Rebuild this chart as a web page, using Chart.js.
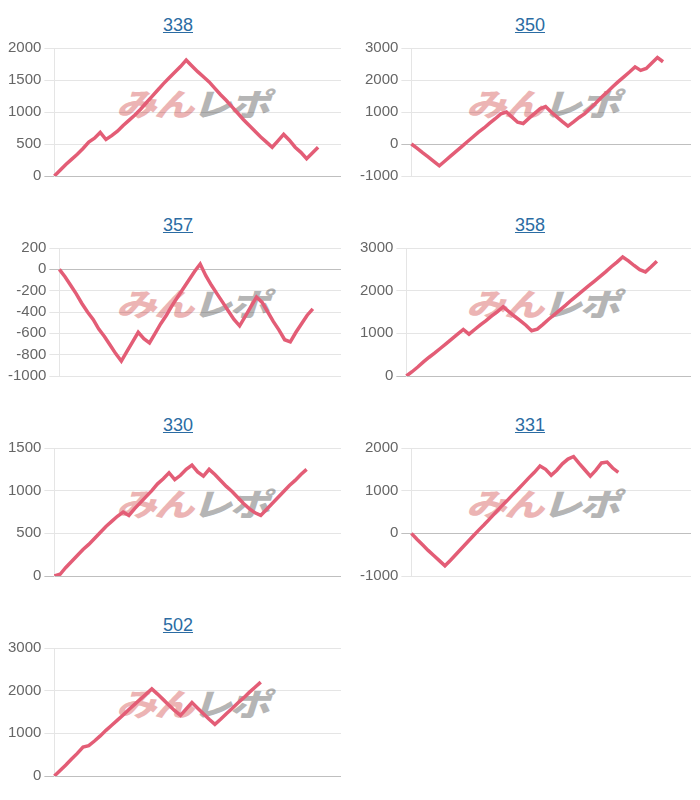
<!DOCTYPE html>
<html>
<head>
<meta charset="utf-8">
<script src="https://cdn.jsdelivr.net/npm/chart.js@4"></script>
<style>
  html, body { margin: 0; padding: 0; background: #fff; }
  body { width: 700px; height: 800px; position: relative; overflow: hidden; font-family: 'Liberation Sans', Arial, sans-serif; }
  .title { position: absolute; width: 356px; text-align: center; font-size: 18px; line-height: 24px; }
  .title a { color: #2b6ca3; text-decoration: underline; }
  .wm { position: absolute; width: 200px; height: 34px; line-height: 34px; text-align: center; white-space: nowrap;
        font-family: 'Noto Sans CJK JP', sans-serif; font-weight: 900; font-size: 33px; }
  .wm span.inner { display: inline-block; transform: scaleX(1.22) scaleY(0.95) skewX(-14deg); letter-spacing: -2px; }
  .wm .p { color: #ecb4b4; }
  .wm .g { color: #b5b5b5; }
  canvas { position: absolute; }
</style>
</head>
<body>
<script>
// ---- data ----
const titles = ['338', '350', '357', '358', '330', '331', '502'];

const s338 = [0, 90, 180, 260, 340, 430, 530, 590, 680, 570, 630, 700, 790, 870, 950, 1040, 1140, 1240, 1340, 1440,
  1530, 1620, 1710, 1810, 1720, 1630, 1550, 1470, 1370, 1270, 1180, 1080, 980, 880, 790, 700, 610, 530, 450, 550,
  650, 560, 450, 370, 270, 360, 450];
const s350 = [0, -130, -270, -400, -540, -680, -530, -380, -230, -80, 70, 220, 370, 500, 650, 790, 940, 1000, 840, 680,
  640, 800, 950, 1100, 1170, 1000, 850, 700, 560, 690, 830, 950, 1120, 1280, 1460, 1620, 1790, 1950, 2100, 2250,
  2410, 2300, 2360, 2530, 2700, 2570];
const s357 = [0, -70, -150, -230, -320, -400, -470, -560, -630, -710, -790, -860, -770, -680, -590, -650, -690, -600,
  -510, -430, -340, -260, -180, -100, -20, 50, -60, -150, -230, -310, -390, -470, -530, -440, -350, -260, -310, -400,
  -490, -570, -660, -680, -590, -510, -430, -370];
const s358 = [0, 100, 210, 330, 440, 540, 650, 760, 870, 980, 1090, 980, 1090, 1200, 1300, 1410, 1510, 1620, 1510,
  1400, 1300, 1190, 1060, 1100, 1210, 1330, 1440, 1550, 1660, 1780, 1890, 2000, 2110, 2220, 2330, 2440, 2560, 2670,
  2790, 2700, 2590, 2490, 2440, 2560, 2690];
const s330 = [0, 20, 100, 170, 240, 310, 370, 440, 510, 580, 640, 700, 750, 710, 790, 860, 930, 1000, 1080, 1140, 1210,
  1130, 1180, 1250, 1300, 1220, 1170, 1250, 1190, 1120, 1050, 990, 920, 850, 790, 740, 710, 780, 850, 920, 990, 1060,
  1120, 1190, 1250];
const s331 = [0, -140, -270, -400, -520, -640, -760, -630, -490, -350, -210, -70, 70, 200, 340, 480, 620, 750, 890,
  1020, 1160, 1300, 1430, 1580, 1500, 1360, 1480, 1630, 1740, 1800, 1640, 1490, 1340, 1480, 1650, 1670, 1530, 1430];
const s502 = [0, 130, 260, 400, 530, 680, 710, 820, 940, 1070, 1190, 1310, 1430, 1560, 1680, 1800, 1920, 2040, 1920,
  1790, 1660, 1530, 1420, 1570, 1720, 1590, 1460, 1330, 1210, 1330, 1460, 1580, 1710, 1830, 1960, 2080, 2200];

const seriesList = [s338, s350, s357, s358, s330, s331, s502];

// y-axis tick settings per chart
const yMin  = [0, -1000, -1000, 0, 0, -1000, 0];
const yMax  = [2000, 3000, 200, 3000, 1500, 2000, 3000];
const yStep = [500, 1000, 200, 1000, 500, 1000, 1000];

// x positions (no visible labels)
const xCount = 51;
const xLabels = Array.from({ length: xCount }, (_, i) => String(i));

// ---- drawing ----
Chart.defaults.font.family = "'Liberation Sans', Arial, sans-serif";
Chart.defaults.font.size = 15;
Chart.defaults.color = '#666';

const colTitleLeft = [0, 352];
const colCanvasLeft = [5, 357];
const colCanvasWidth = [336, 334];
const colWmCenter = [196, 546];
const canvasTop = 36;
const canvasHeight = 152;

titles.forEach((t, i) => {
  const r = Math.floor(i / 2), c = i % 2;
  const top = 200 * r;

  const wm = document.createElement('div');
  wm.className = 'wm';
  wm.style.left = (colWmCenter[c] - 100) + 'px';
  wm.style.top = (top + 86) + 'px';
  wm.innerHTML = '<span class="inner"><span class="p">みん</span><span class="g">レポ</span></span>';
  document.body.appendChild(wm);

  const title = document.createElement('div');
  title.className = 'title';
  title.style.left = colTitleLeft[c] + 'px';
  title.style.top = (top + 13) + 'px';
  const a = document.createElement('a');
  a.href = '#';
  a.textContent = t;
  title.appendChild(a);
  document.body.appendChild(title);

  const cv = document.createElement('canvas');
  cv.width = colCanvasWidth[c];
  cv.height = canvasHeight;
  cv.style.left = colCanvasLeft[c] + 'px';
  cv.style.top = (top + canvasTop) + 'px';
  cv.style.width = colCanvasWidth[c] + 'px';
  cv.style.height = canvasHeight + 'px';
  document.body.appendChild(cv);

  new Chart(cv.getContext('2d'), {
    type: 'line',
    data: {
      labels: xLabels,
      datasets: [{
        data: seriesList[i],
        borderColor: '#e35d76',
        backgroundColor: 'transparent',
        borderWidth: 3.5,
        pointRadius: 0,
        tension: 0,
        fill: false
      }]
    },
    options: {
      responsive: false,
      animation: false,
      devicePixelRatio: 1,
      layout: { padding: 0 },
      plugins: { legend: { display: false }, tooltip: { enabled: false }, title: { display: false } },
      scales: {
        x: { display: false },
        y: {
          min: yMin[i],
          max: yMax[i],
          ticks: { stepSize: yStep[i], padding: 3, color: '#666', callback: (v) => String(v) },
          grid: {
            color: (ctx) => (ctx.tick && ctx.tick.value === 0) ? 'rgba(0,0,0,0.25)' : 'rgba(0,0,0,0.1)',
            tickLength: 10,
            lineWidth: 1
          },
          border: { color: 'rgba(0,0,0,0.1)' }
        }
      }
    }
  });
});
</script>
</body>
</html>
